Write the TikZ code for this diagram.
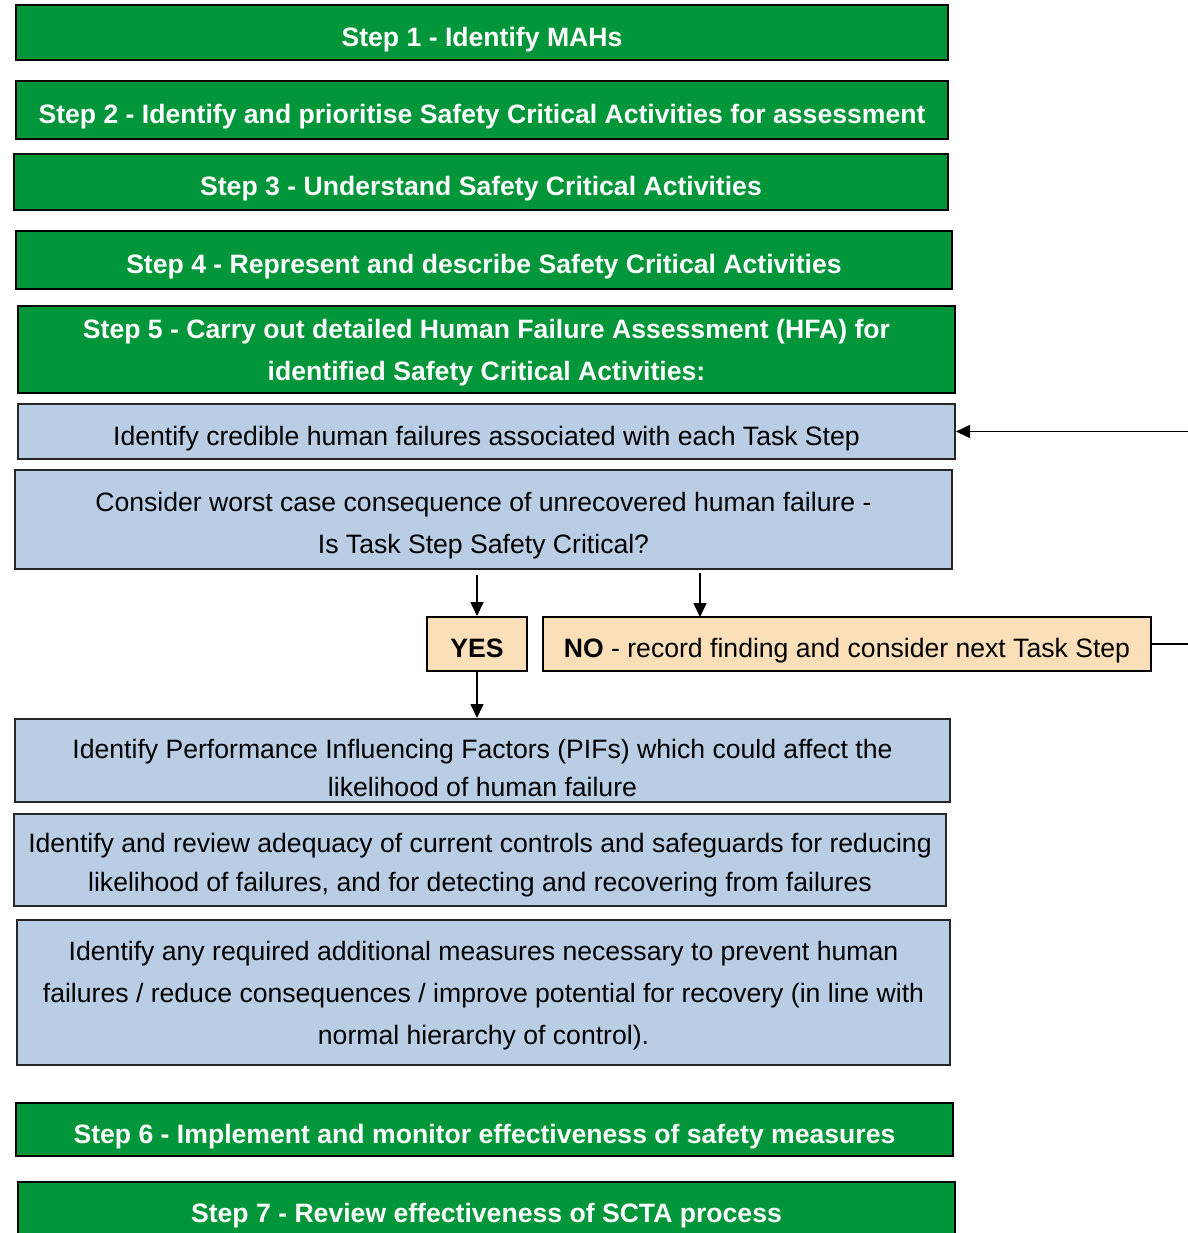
\documentclass[tikz,border=0pt]{standalone}
\usepackage{fontspec}
\setmainfont{Liberation Sans}
\usetikzlibrary{arrows.meta, positioning, calc}
\definecolor{stepGreen}{RGB}{0,150,57}
\definecolor{taskBlue}{RGB}{185,205,229}
\definecolor{choicePeach}{RGB}{250,223,185}
\newcommand{\topPad}[1]{\rule{0pt}{#1}}
\tikzset{
    stepBox/.style={rectangle, draw=black, fill=stepGreen, line width=1pt, text=white, inner sep=0pt, text depth=0pt, align=center, font=\fontsize{13.3}{21}\selectfont\bfseries},
    taskBox/.style={rectangle, draw=black!85, fill=taskBlue, line width=1pt, inner sep=0pt, text depth=0pt, align=center, font=\fontsize{13.3}{21}\selectfont},
    choiceBox/.style={rectangle, draw=black, fill=choicePeach, line width=1pt, inner sep=0pt, text depth=0pt, align=center, font=\fontsize{13.3}{21}\selectfont},
    oneLine/.style={text height=13.7pt},
    flowLine/.style={-{Triangle[length=7pt, width=6.5pt]}, line width=0.8pt}
}

\begin{document}
\begin{tikzpicture}[x=0.5pt, y=-0.5pt]

        % --- Page frame ---
        \useasboundingbox (0,0) rectangle (1188,1233);

        % --- Steps 1 to 5 ---
        \node[stepBox, oneLine, minimum width=466pt, minimum height=27.5pt] (step1) at (482,32.5) {Step 1 - Identify MAHs};
        \node[stepBox, oneLine, minimum width=466pt, minimum height=29pt] (step2) at (482,110) {Step 2 - Identify and prioritise Safety Critical Activities for assessment};
        \node[stepBox, oneLine, minimum width=467pt, minimum height=28pt] (step3) at (481,182) {Step 3 - Understand Safety Critical Activities};
        \node[stepBox, oneLine, minimum width=468pt, minimum height=29pt] (step4) at (484,260) {Step 4 - Represent and describe Safety Critical Activities};
        \node[stepBox, minimum width=468.5pt, minimum height=43.5pt] (step5) at (486.5,349.5) {Step 5 - Carry out detailed Human Failure Assessment (HFA) for\\identified Safety Critical Activities:};

        % --- Human failure assessment ---
        \node[taskBox, oneLine, minimum width=468.5pt, minimum height=27.5pt] (taskFail) at (486.5,431.5) {Identify credible human failures associated with each Task Step};
        \node[taskBox, minimum width=468.5pt, minimum height=49.5pt] (taskWorst) at (483.5,519.5) {\topPad{12.7pt}Consider worst case consequence of unrecovered human failure -\\Is Task Step Safety Critical?};

        % --- Decision ---
        \node[choiceBox, oneLine, minimum width=50pt, minimum height=27pt] (yesBox) at (477,644) {\bfseries YES};
        \node[choiceBox, oneLine, minimum width=304pt, minimum height=27pt] (noBox) at (847,644) {{\bfseries NO} - record finding and consider next Task Step};

        % --- Safety critical task step ---
        \node[taskBox, minimum width=467.5pt, minimum height=41.5pt, font=\fontsize{13.3}{19}\selectfont] (taskPIF) at (482.5,760.5) {\topPad{16.7pt}Identify Performance Influencing Factors (PIFs) which could affect the\\likelihood of human failure};
        \node[taskBox, minimum width=466pt, minimum height=46pt, font=\fontsize{13.3}{19.5}\selectfont] (taskCtrl) at (480,860) {\topPad{11.7pt}Identify and review adequacy of current controls and safeguards for reducing\\likelihood of failures, and for detecting and recovering from failures};
        \node[taskBox, minimum width=466.5pt, minimum height=72.5pt] (taskMeas) at (483.5,992.5) {Identify any required additional measures necessary to prevent human\\failures / reduce consequences / improve potential for recovery (in line with\\normal hierarchy of control).};

        % --- Steps 6 and 7 ---
        \node[stepBox, oneLine, minimum width=468.5pt, minimum height=26.5pt] (step6) at (484.5,1129.5) {Step 6 - Implement and monitor effectiveness of safety measures};
        \node[stepBox, minimum width=468.5pt, minimum height=31pt] (step7) at (486.5,1213) {Step 7 - Review effectiveness of SCTA process};

        % --- Connectors ---
        \coordinate (noIn) at (700,617);
        \coordinate (loopRight) at (1200,644);
        \draw[flowLine] (yesBox.north |- taskWorst.south) ++(0,5) -- (yesBox.north);
        \draw[flowLine] (noIn |- taskWorst.south) ++(0,3) -- (noIn);
        \draw[flowLine] (yesBox.south) -- (yesBox.south |- taskPIF.north);
        \draw[flowLine] (noBox.east) -- (loopRight) |- (taskFail.east);

\end{tikzpicture}
\end{document}
